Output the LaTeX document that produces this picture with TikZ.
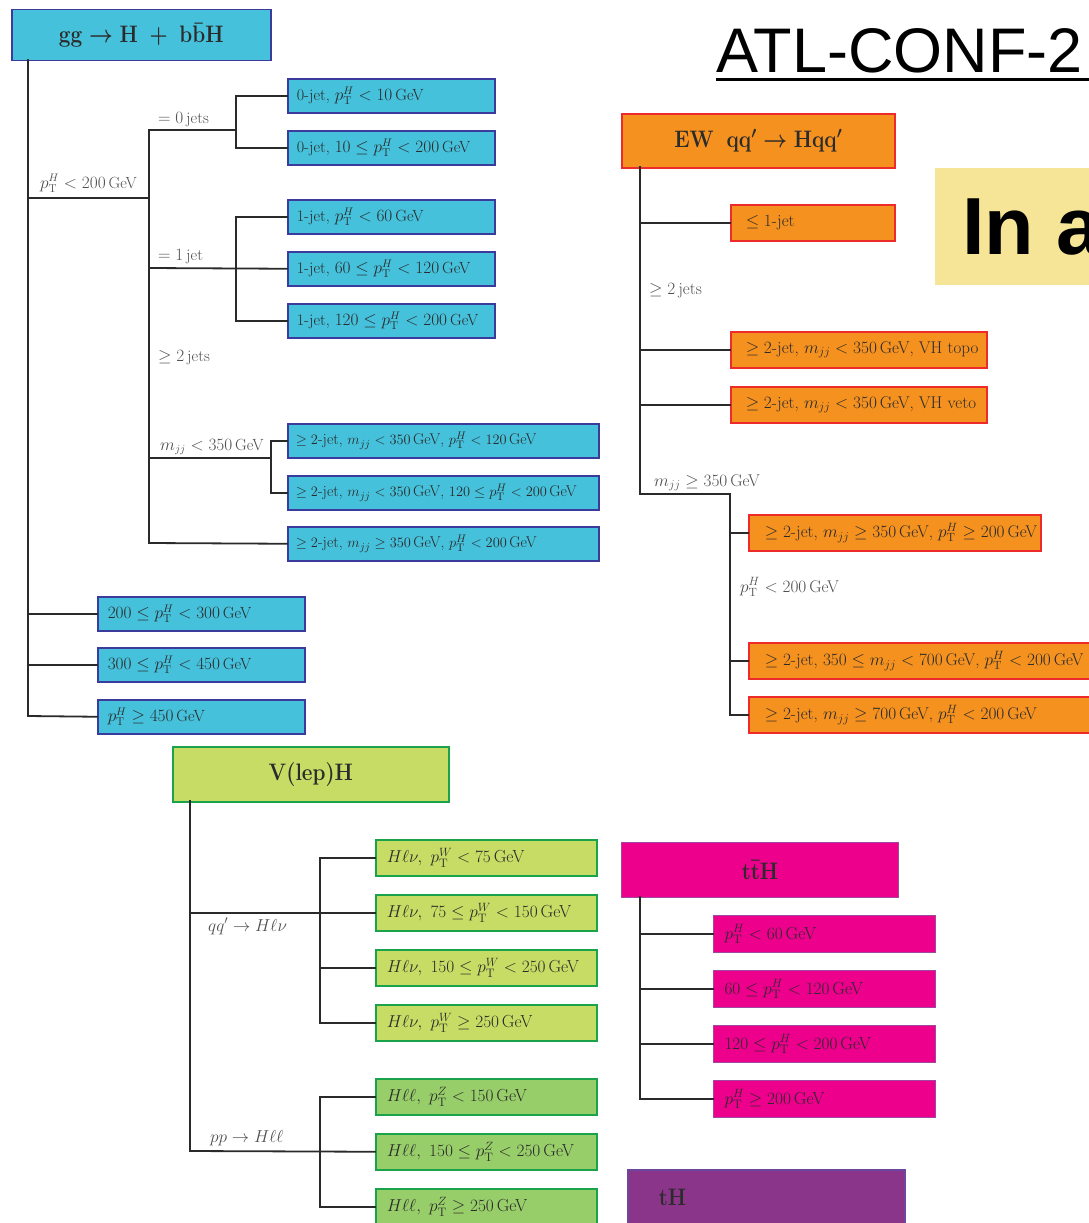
\documentclass[tikz,border=0pt]{standalone}
\usepackage{fontspec}
\newfontfamily\helv{Liberation Sans}
\definecolor{bfill}{HTML}{45C1DB}
\definecolor{bdraw}{HTML}{3B3B9E}
\definecolor{ofill}{HTML}{F5911F}
\definecolor{odraw}{HTML}{EE2B2B}
\definecolor{gfill}{HTML}{C7DC64}
\definecolor{gfilltwo}{HTML}{98CE6A}
\definecolor{gdraw}{HTML}{1AA34A}
\definecolor{pfill}{HTML}{EC008C}
\definecolor{pdraw}{HTML}{A0489E}
\definecolor{thfill}{HTML}{8A3589}
\definecolor{thdraw}{HTML}{6B47A0}
\definecolor{yfill}{HTML}{F7E597}
\definecolor{txt}{HTML}{2B2B2B}
\definecolor{lbl}{HTML}{505050}
\definecolor{wirec}{HTML}{2A2A2A}
\newcommand\ptH{p_{\mathrm{T}}^{H}}
\newcommand\ptW{p_{\mathrm{T}}^{W}}
\newcommand\ptZ{p_{\mathrm{T}}^{Z}}
\newcommand\tallbf[1]{\scalebox{1}[1.15]{#1}}
% \bx{name}{x}{y}{w}{h}{style}{indent}{text}
\newcommand\bx[8]{\node[#6, anchor=north west, minimum height=#5pt, inner xsep=#7pt, inner ysep=0pt] (#1) at (#2,#3) {\makebox[\dimexpr#4pt-#7pt-#7pt\relax][l]{#8}};}
\tikzset{
  bluebox/.style={draw=bdraw, fill=bfill, line width=1.5pt, text=txt, font=\fontsize{16.2}{18}\selectfont},
  blueboxw/.style={bluebox, font=\fontsize{15.6}{18}\selectfont},
  orbox/.style={draw=odraw, fill=ofill, line width=1.5pt, text=txt, font=\fontsize{17}{19}\selectfont},
  grbox/.style={draw=gdraw, fill=gfill, line width=1.5pt, text=txt, font=\fontsize{17.5}{19}\selectfont},
  grboxtwo/.style={draw=gdraw, fill=gfilltwo, line width=1.5pt, text=txt, font=\fontsize{17.5}{19}\selectfont},
  pkbox/.style={draw=pdraw, fill=pfill, line width=1pt, text=txt, font=\fontsize{17.5}{19}\selectfont},
  thbox/.style={draw=thdraw, fill=thfill, line width=1.5pt, text=txt, font=\fontsize{21}{24}\selectfont\boldmath},
  ttl/.style={anchor=north west, inner sep=0pt, text=txt, font=\fontsize{21}{24}\selectfont\boldmath},
  lab/.style={anchor=base west, inner sep=0pt, text=lbl, font=\fontsize{16.2}{18}\selectfont},
  labb/.style={lab, font=\fontsize{17}{19}\selectfont},
  wire/.style={draw=wirec, line width=1.8pt, line cap=rect}
}
\begin{document}
\begin{tikzpicture}[x=1pt,y=-1pt]
\useasboundingbox (0,0) rectangle (1089,1223);
\begin{scope}
\clip (0,0) rectangle (1089,1223);
\fill[white] (0,0) rectangle (1089,1223);

% ---------- title and banner ----------
\node[anchor=base west, inner sep=0pt, font=\helv\fontsize{63}{70}\selectfont] (atl) at (716,73) {ATL-CONF-2};
\draw[line width=3pt] ([yshift=-6.5pt]atl.base west) -- ([yshift=-6.5pt,xshift=10pt]atl.base east);
\node[fill=yfill, anchor=north west, minimum height=117pt, inner xsep=27pt, inner ysep=0pt, font=\helv\bfseries\fontsize{81}{90}\selectfont] (ina) at (935,168) {\makebox[200pt][l]{In a}};

% ---------- ggF ----------
\node[ttl, draw=bdraw, fill=bfill, line width=1.5pt, minimum width=259pt, minimum height=51pt, anchor=north west] (gtitle) at (11,9) {\tallbf{$\mathbf{gg}\rightarrow\mathbf{H}\ +\ \mathbf{b\bar{b}H}$}};
\bx{b01}{287}{78}{207}{34}{bluebox}{9}{0-jet, $\ptH<10\,$GeV}
\bx{b02}{287}{130}{207}{34}{bluebox}{9}{0-jet, $10\le\ptH<200\,$GeV}
\bx{b11}{287}{199}{207}{34}{bluebox}{9}{1-jet, $\ptH<60\,$GeV}
\bx{b12}{287}{251}{207}{34}{bluebox}{9}{1-jet, $60\le\ptH<120\,$GeV}
\bx{b13}{287}{303}{207}{34}{bluebox}{9}{1-jet, $120\le\ptH<200\,$GeV}
\bx{b21}{287}{423}{311}{34}{blueboxw}{8}{$\ge2$-jet, $m_{jj}<350\,$GeV, $\ptH<120\,$GeV}
\bx{b22}{287}{475}{311}{34}{blueboxw}{8}{$\ge2$-jet, $m_{jj}<350\,$GeV, $120\le\ptH<200\,$GeV}
\bx{b23}{287}{526}{311}{34}{blueboxw}{8}{$\ge2$-jet, $m_{jj}\ge350\,$GeV, $\ptH<200\,$GeV}
\bx{b3}{97}{596}{207}{34}{bluebox}{10}{$200\le\ptH<300\,$GeV}
\bx{b4}{97}{647}{207}{34}{bluebox}{10}{$300\le\ptH<450\,$GeV}
\bx{b5}{97}{699}{207}{34}{bluebox}{10}{$\ptH\ge450\,$GeV}

\coordinate (bT) at (28,60);
\coordinate (bB) at (28,716);
\coordinate (j1) at (28,198);
\coordinate (j2) at (149,198);
\coordinate (k0) at (149,130);
\coordinate (k1) at (149,268);
\coordinate (k2) at (149,458);
\coordinate (k3) at (149,543);
\coordinate (m0) at (236,130);
\coordinate (m1) at (236,268);
\coordinate (m2) at (271,458);
\draw[wire] (bT) -- (bB) -- (b5.west);
\draw[wire] (b3.west -| bT) -- (b3.west);
\draw[wire] (b4.west -| bT) -- (b4.west);
\draw[wire] (j1) -- (j2);
\draw[wire] (k0) -- (k3) -- (b23.west);
\draw[wire] (k0) -- (m0);
\draw[wire] (b01.west) -| (m0) |- (b02.west);
\draw[wire] (k1) -- (b12.west);
\draw[wire] (b11.west) -| (m1) |- (b13.west);
\draw[wire] (k2) -- (m2);
\draw[wire] (b21.west) -| (m2) |- (b22.west);
\node[lab] (l1) at (40,188) {$\ptH<200\,$GeV};
\node[lab] (l2) at (158,123) {$=0\,$jets};
\node[lab] (l3) at (158,260) {$=1\,$jet};
\node[lab] (l4) at (158,361) {$\ge2\,$jets};
\node[lab] (l5) at (160,450) {$m_{jj}<350\,$GeV};

% ---------- VBF ----------
\node[ttl, draw=odraw, fill=ofill, line width=1.5pt, minimum width=273pt, minimum height=54pt] (etitle) at (621,113) {\tallbf{$\mathbf{EW\ \ qq'}\rightarrow\mathbf{Hqq'}$}};
\bx{o1}{730}{204}{164}{36}{orbox}{15}{$\le1$-jet}
\bx{o2}{730}{331}{256}{36}{orbox}{15}{$\ge2$-jet, $m_{jj}<350\,$GeV, VH topo}
\bx{o3}{730}{386}{256}{36}{orbox}{15}{$\ge2$-jet, $m_{jj}<350\,$GeV, VH veto}
\bx{o4}{748}{514}{292}{36}{orbox}{16}{$\ge2$-jet, $m_{jj}\ge350\,$GeV, $\ptH\ge200\,$GeV}
\bx{o5}{748}{642}{360}{36}{orbox}{16}{$\ge2$-jet, $350\le m_{jj}<700\,$GeV, $\ptH<200\,$GeV}
\bx{o6}{748}{696}{360}{36}{orbox}{16}{$\ge2$-jet, $m_{jj}\ge700\,$GeV, $\ptH<200\,$GeV}
\coordinate (oT) at (640,167);
\coordinate (oB) at (640,494);
\coordinate (oM) at (730,494);
\draw[wire] (oT) -- (oB) -- (oM) |- (o6.west);
\draw[wire] (o1.west -| oT) -- (o1.west);
\draw[wire] (o2.west -| oT) -- (o2.west);
\draw[wire] (o3.west -| oT) -- (o3.west);
\draw[wire] (o4.west -| oM) -- (o4.west);
\draw[wire] (o5.west -| oM) -- (o5.west);
\node[labb] (l6) at (649,294) {$\ge2\,$jets};
\node[labb] (l7) at (654,486) {$m_{jj}\ge350\,$GeV};
\node[labb] (l8) at (740,592) {$\ptH<200\,$GeV};

% ---------- VH ----------
\node[ttl, draw=gdraw, fill=gfill, line width=1.5pt, minimum width=276pt, minimum height=55pt] (vtitle) at (172,746) {\tallbf{$\mathbf{V(lep)H}$}};
\bx{g1}{375}{839}{221}{36}{grbox}{11}{$H\ell\nu,\ \ptW<75\,$GeV}
\bx{g2}{375}{894}{221}{36}{grbox}{11}{$H\ell\nu,\ 75\le\ptW<150\,$GeV}
\bx{g3}{375}{949}{221}{36}{grbox}{11}{$H\ell\nu,\ 150\le\ptW<250\,$GeV}
\bx{g4}{375}{1004}{221}{36}{grbox}{11}{$H\ell\nu,\ \ptW\ge250\,$GeV}
\bx{h1}{375}{1078}{221}{36}{grboxtwo}{11}{$H\ell\ell,\ \ptZ<150\,$GeV}
\bx{h2}{375}{1133}{221}{36}{grboxtwo}{11}{$H\ell\ell,\ 150\le\ptZ<250\,$GeV}
\bx{h3}{375}{1188}{221}{36}{grboxtwo}{11}{$H\ell\ell,\ \ptZ\ge250\,$GeV}
\coordinate (gT) at (190,801);
\coordinate (gB) at (190,1151);
\coordinate (gv) at (320,0);
\draw[wire] (gT) -- (gB) -- (h2.west);
\draw[wire] (g2.west -| gT) -- (g2.west);
\draw[wire] (g1.west) -- (g1.west -| gv) -- (g4.west -| gv) -- (g4.west);
\draw[wire] (g3.west -| gv) -- (g3.west);
\draw[wire] (h1.west) -- (h1.west -| gv) -- (h3.west -| gv) -- (h3.west);
\node[labb] (l9) at (208,931) {$qq'\rightarrow H\ell\nu$};
\node[labb] (l10) at (210,1142) {$pp\rightarrow H\ell\ell$};

% ---------- ttH ----------
\node[ttl, draw=pdraw, fill=pfill, line width=1pt, minimum width=277pt, minimum height=55pt] (ttitle) at (621,842) {\tallbf{$\mathbf{t\bar{t}H}$}};
\bx{p1}{713}{915}{222}{37}{pkbox}{11}{$\ptH<60\,$GeV}
\bx{p2}{713}{970}{222}{37}{pkbox}{11}{$60\le\ptH<120\,$GeV}
\bx{p3}{713}{1025}{222}{37}{pkbox}{11}{$120\le\ptH<200\,$GeV}
\bx{p4}{713}{1080}{222}{37}{pkbox}{11}{$\ptH\ge200\,$GeV}
\coordinate (pT) at (640,897);
\draw[wire] (pT) |- (p4.west);
\draw[wire] (p1.west -| pT) -- (p1.west);
\draw[wire] (p2.west -| pT) -- (p2.west);
\draw[wire] (p3.west -| pT) -- (p3.west);

% ---------- tH ----------
\bx{th}{627}{1169}{277}{56}{thbox}{31}{\tallbf{$\mathbf{tH}$}}
\end{scope}
\end{tikzpicture}
\end{document}
